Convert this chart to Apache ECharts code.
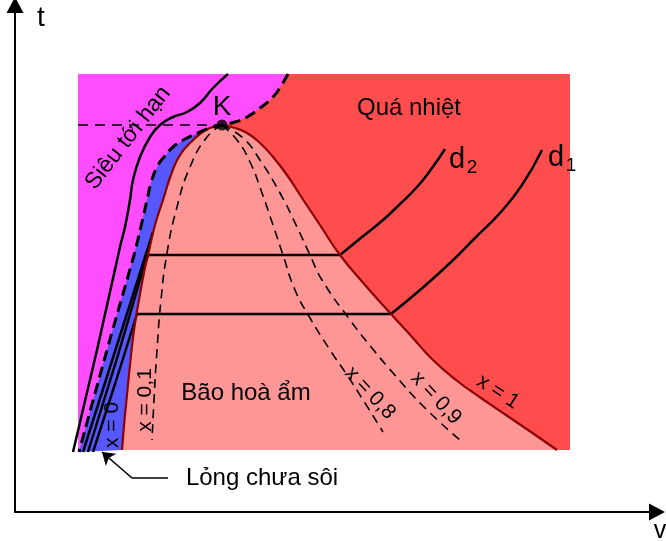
<!DOCTYPE html>
<html>
<head>
<meta charset="utf-8">
<script src="https://cdn.jsdelivr.net/npm/echarts@6/dist/echarts.min.js"></script>
<style>
  html, body { margin: 0; padding: 0; background: #fff; }
  #chart { width: 666px; height: 541px; }
</style>
</head>
<body>
<div id="chart"></div>
<script>
// Giản đồ t-v: trục ngang v, trục dọc t (đơn vị tuỳ ý, gốc ở giao hai trục)
const frame = [[63, 62], [555, 62], [555, 438], [63, 438]];
const pointK = [207, 387];

// đường bão hoà: nhánh trái x = 0 (từ dưới lên K), nhánh phải x = 1 (từ K xuống)
const domeLeft = [[107, 62], [109.5, 92], [112.5, 122], [115.5, 152], [119, 182], [124, 212],
  [129.5, 242], [133, 257], [140, 287], [148, 312], [157, 340], [165, 357], [175, 369],
  [185, 378], [195, 384], [207, 387]];
const domeRight = [[207, 387], [220, 384], [232, 379], [245, 369], [258, 355], [272, 337],
  [287, 314], [305, 287], [325, 257], [350, 227], [376, 198], [397, 175], [418, 152],
  [441, 132], [466, 114], [491, 97], [516, 80], [542, 62]];

// đường đẳng áp tới hạn (nét đứt đậm), đi qua K
const critIsobar = [[273, 438], [266, 426], [258, 415], [245, 404], [232, 395], [220, 390],
  [207, 387], [195, 384], [185, 380], [170, 373], [158, 365], [149, 355], [142, 345],
  [136, 329], [132, 312], [127, 290], [122, 269], [119, 257], [92, 162], [64, 60]];
// đường đẳng áp trên tới hạn
const superIsobar = [[213, 438], [198, 424], [185, 409], [172, 400], [158, 395], [145, 387],
  [135, 375], [125, 355], [118, 332], [115, 312], [110, 285], [105, 265], [82, 162], [58, 60]];

// đẳng áp d2: phần lỏng, phần bão hoà (ngang), phần quá nhiệt
const d2Liquid = [[73, 60], [103, 157], [125, 232], [133, 257]];
const d2Wet = [[133, 257], [325, 257]];
const d2Vapour = [[325, 257], [347, 275], [368, 292], [385, 308], [402, 325], [417, 344], [430, 363]];
// đẳng áp d1
const d1Liquid = [[78, 60], [100, 128], [122, 198]];
const d1Wet = [[122, 198], [376, 198]];
const d1Vapour = [[376, 198], [405, 222], [435, 249], [460, 274], [485, 299], [507, 327], [527, 362]];
const isoLiquid = [[68, 60], [138, 280]];

// đường độ khô x = 0,1 / 0,8 / 0,9
const dry01 = [[207, 387], [192, 375], [175, 345], [162, 305], [152, 259], [146, 212],
  [142, 162], [139, 112], [137, 72]];
const dry08 = [[207, 387], [222, 372], [235, 350], [247, 319], [258, 287], [268, 257],
  [280, 222], [295, 194], [315, 162], [332, 137], [350, 109], [368, 80]];
const dry09 = [[207, 387], [228, 374], [245, 352], [265, 319], [282, 285], [295, 257],
  [307, 232], [335, 192], [357, 164], [378, 139], [410, 104], [445, 72]];

const critTemp = [[63, 387], [207, 387]];
const pointerPath = [[153, 34], [117, 34], [87, 60]];

const kIdx = critIsobar.findIndex(p => p[0] === pointK[0] && p[1] === pointK[1]);
const magentaArea = [[63, 438]].concat(critIsobar, [[63, 60]]);
const blueArea = critIsobar.slice(kIdx).concat(domeLeft);
const pinkArea = domeLeft.concat(domeRight.slice(1));

const FONT = '"Liberation Sans", Arial, sans-serif';

function area(pts, color, z) {
  return {
    type: 'custom', silent: true, z: z, data: [pts[0]],
    renderItem: (params, api) => ({
      type: 'polygon',
      shape: { points: pts.map(p => api.coord(p)) },
      style: { fill: color }
    })
  };
}

function curve(pts, color, width, dash, smooth, z) {
  return {
    type: 'line', data: pts, smooth: smooth !== false, showSymbol: false, silent: true, z: z || 3,
    lineStyle: { color: color, width: width, type: dash || 'solid' }
  };
}

function text(str, x, y, size, rot) {
  return {
    type: 'text', x: x, y: y, rotation: rot || 0, z: 100,
    style: {
      text: str, x: 0, y: 0, fill: '#000', font: size + 'px ' + FONT,
      textAlign: 'center', textVerticalAlign: 'middle', align: 'center', verticalAlign: 'middle'
    }
  };
}

const axisCommon = {
  type: 'value',
  axisLine: { onZero: false, symbol: ['none', 'triangle'], symbolSize: [17, 16],
    lineStyle: { color: '#000', width: 2 } },
  axisTick: { show: false }, axisLabel: { show: false }, splitLine: { show: false }
};

const chart = echarts.init(document.getElementById('chart'));
chart.setOption({
  animation: false,
  grid: { left: 15, right: 9, top: 5, bottom: 29 },
  xAxis: Object.assign({ min: 0, max: 642 }, axisCommon),
  yAxis: Object.assign({ min: 0, max: 507 }, axisCommon),
  series: [
    area(frame, '#ff4d4d', 1),
    area(magentaArea, '#ff4dff', 1),
    area(blueArea, '#5757ff', 1),
    area(pinkArea, '#ff9696', 1),
    curve(superIsobar, '#000', 2.5),
    curve(d2Liquid, '#000', 2.5, null, false),
    curve(d2Wet, '#000', 2.5, null, false),
    curve(d2Vapour, '#000', 2.5),
    curve(d1Liquid, '#000', 2.5, null, false),
    curve(d1Wet, '#000', 2.5, null, false),
    curve(d1Vapour, '#000', 2.5),
    curve(isoLiquid, '#000', 2.5, null, false),
    curve(domeLeft, '#8b0000', 2.2),
    curve(domeRight, '#8b0000', 2.2),
    curve(critIsobar, '#000', 3, [11, 6], true, 4),
    curve(dry01, '#000', 1.6, [9, 6]),
    curve(dry08, '#000', 1.6, [9, 6]),
    curve(dry09, '#000', 1.6, [9, 6]),
    curve(critTemp, '#000', 1.6, [10, 7], false),
    {
      type: 'scatter', data: [pointK], symbolSize: 11, silent: true, z: 5,
      itemStyle: { color: '#000' },
      markLine: {
        silent: true, symbolSize: 12, label: { show: false },
        lineStyle: { color: '#000', width: 1.6, type: 'solid' },
        data: [
          [{ coord: pointerPath[0], symbol: 'none' }, { coord: pointerPath[1], symbol: 'none' }],
          [{ coord: pointerPath[1], symbol: 'none' }, { coord: pointerPath[2], symbol: 'arrow' }]
        ]
      }
    }
  ],
  graphic: [
    text('t', 41, 18, 28),
    text('v', 660, 531, 25),
    text('K', 222, 107, 28),
    text('Quá nhiệt', 409, 108, 24),
    text('Siêu tới hạn', 128, 138, 23, 0.91),
    text('Bão hoà ẩm', 246, 393, 24),
    text('Lỏng chưa sôi', 262, 478, 24),
    text('x = 0', 112, 425, 21, Math.PI / 2),
    text('x = 0,1', 145, 400, 21, Math.PI / 2),
    text('x = 0,8', 370, 393, 21, -0.82),
    text('x = 0,9', 436, 398, 21, -0.82),
    text('x = 1', 498, 392, 21, -0.58),
    text('d', 457, 160, 29),
    text('2', 472, 168, 19),
    text('d', 556, 158, 29),
    text('1', 571, 166, 19)
  ]
});
</script>
</body>
</html>
